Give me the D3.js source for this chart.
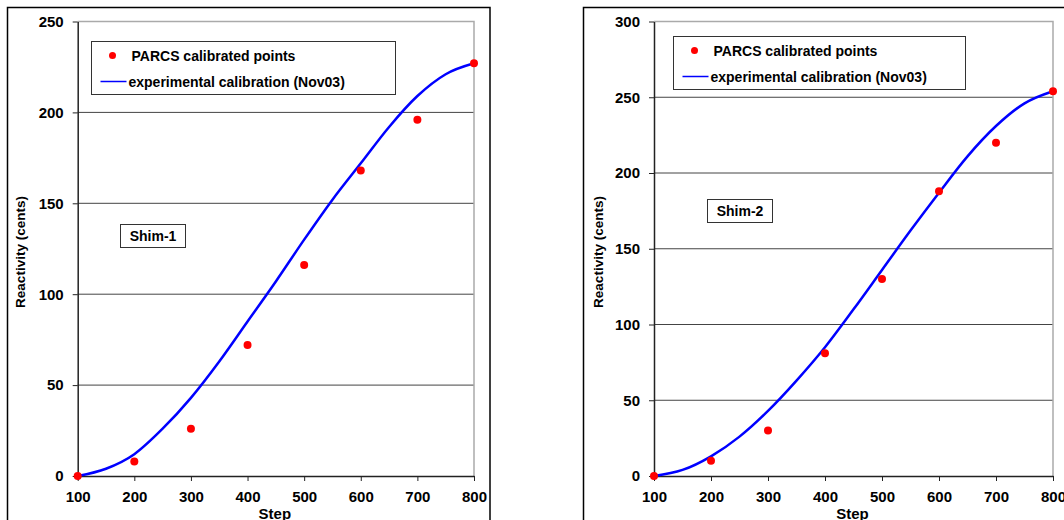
<!DOCTYPE html>
<html>
<head>
<meta charset="utf-8">
<script src="https://cdn.jsdelivr.net/npm/d3@7"></script>
<style>
    body { margin: 0; background: #fff; }
    svg { display: block; font-family: "Liberation Sans", Arial, sans-serif; font-weight: bold; }
</style>
</head>
<body>
<svg width="1064" height="520"></svg>
<script>
// x positions (control rod step) shared by both panels
var steps = [100, 200, 300, 400, 500, 600, 700, 800];
var curveSteps = [100, 150, 200, 250, 300, 350, 400, 450, 500, 550, 600, 650, 700, 750, 800];

// Shim-1
var shim1Points = [0, 8, 26, 72, 116, 168, 196, 227];
var shim1Curve = [0, 4, 12, 26, 43, 63, 85, 107, 130, 152, 172, 192, 209, 221, 227];
var shim1Ticks = [0, 50, 100, 150, 200, 250];

// Shim-2
var shim2Points = [0, 10, 30, 81, 130, 188, 220, 254];
var shim2Curve = [0, 4, 13, 26, 43, 63, 85, 110, 136, 162, 187, 211, 231, 246, 254];
var shim2Ticks = [0, 50, 100, 150, 200, 250, 300];

var svg = d3.select("svg");

function drawPanel(p) {
    var x = d3.scaleLinear().domain([100, 800]).range([p.x0, p.x1]);
    var y = d3.scaleLinear().domain([0, p.yMax]).range([476, 21.5]);

    var g = svg.append("g");

    // outer frame
    g.append("rect")
        .attr("x", p.frameX).attr("y", 7.5)
        .attr("width", p.frameW).attr("height", 530)
        .attr("fill", "none").attr("stroke", "#000").attr("stroke-width", 1.5);

    // gridlines
    g.selectAll(".grid")
        .data(p.ticks.slice(1, -1))
        .enter()
        .append("line")
        .attr("x1", x(100)).attr("x2", x(800))
        .attr("y1", function(d) { return y(d); })
        .attr("y2", function(d) { return y(d); })
        .attr("stroke", "#444").attr("stroke-width", 1);

    // plot area top / right border
    g.append("path")
        .attr("d", "M" + x(100) + "," + y(p.yMax) + "H" + x(800) + "V" + y(0))
        .attr("fill", "none").attr("stroke", "#aaa").attr("stroke-width", 1.5);

    // axes
    var ya = g.append("g")
        .attr("transform", "translate(" + x(100) + ",0)")
        .call(d3.axisLeft(y).tickValues(p.ticks).tickSize(5).tickPadding(9).tickSizeOuter(0));
    var xa = g.append("g")
        .attr("transform", "translate(0," + y(0) + ")")
        .call(d3.axisBottom(x).tickValues(steps).tickSize(5).tickPadding(10).tickSizeOuter(0));
    [ya, xa].forEach(function(a) {
        a.select(".domain").attr("stroke", "#222").attr("stroke-width", 1.5);
        a.selectAll(".tick line").attr("stroke", "#222");
        a.selectAll("text")
            .attr("fill", "#000")
            .style("font-family", "Liberation Sans, Arial, sans-serif")
            .style("font-weight", "bold")
            .style("font-size", "15px");
    });

    // axis titles
    g.append("text")
        .attr("transform", "translate(" + p.yTitleX + ",252) rotate(-90)")
        .attr("text-anchor", "middle")
        .style("font-size", "13.5px")
        .text("Reactivity (cents)");
    g.append("text")
        .attr("x", (x(100) + x(800)) / 2 - 1).attr("y", 519)
        .attr("text-anchor", "middle")
        .style("font-size", "15px")
        .text("Step");

    // calibration curve
    var line = d3.line()
        .x(function(d, i) { return x(curveSteps[i]); })
        .y(function(d) { return y(d); })
        .curve(d3.curveMonotoneX);
    g.append("path")
        .datum(p.curve)
        .attr("d", line)
        .attr("fill", "none").attr("stroke", "#0000ff").attr("stroke-width", 2.5);

    // PARCS points
    g.selectAll(".pt")
        .data(p.points)
        .enter()
        .append("circle")
        .attr("cx", function(d, i) { return x(steps[i]); })
        .attr("cy", function(d) { return y(d); })
        .attr("r", 4)
        .attr("fill", "#ff0000");

    // legend
    var lg = g.append("g").attr("transform", "translate(" + p.legX + "," + p.legY + ")");
    lg.append("rect")
        .attr("width", p.legW).attr("height", 53)
        .attr("fill", "#fff").attr("stroke", "#333").attr("stroke-width", 1);
    lg.append("circle").attr("cx", 21).attr("cy", 14).attr("r", 3.5).attr("fill", "#ff0000");
    lg.append("text").attr("x", 40).attr("y", 19).style("font-size", "14px").text("PARCS calibrated points");
    lg.append("line").attr("x1", 9).attr("x2", 35).attr("y1", 40).attr("y2", 40)
        .attr("stroke", "#0000ff").attr("stroke-width", 1.5);
    lg.append("text").attr("x", 37).attr("y", 45).style("font-size", "14px").text("experimental calibration (Nov03)");

    // panel label
    var lb = g.append("g").attr("transform", "translate(" + p.labX + "," + p.labY + ")");
    lb.append("rect").attr("width", 65).attr("height", 23)
        .attr("fill", "#fff").attr("stroke", "#333").attr("stroke-width", 1);
    lb.append("text").attr("x", 32.5).attr("y", 16.5).attr("text-anchor", "middle")
        .style("font-size", "14px").text(p.label);
}

drawPanel({
    x0: 77.7, x1: 474, yMax: 250, ticks: shim1Ticks,
    points: shim1Points, curve: shim1Curve,
    frameX: 7.5, frameW: 482.5, yTitleX: 25,
    legX: 91.5, legY: 41.5, legW: 304,
    labX: 120.5, labY: 224.5, label: "Shim-1"
});

drawPanel({
    x0: 654, x1: 1053, yMax: 300, ticks: shim2Ticks,
    points: shim2Points, curve: shim2Curve,
    frameX: 583.5, frameW: 520, yTitleX: 603,
    legX: 673.5, legY: 36.5, legW: 292,
    labX: 707.5, labY: 199.5, label: "Shim-2"
});
</script>
</body>
</html>
